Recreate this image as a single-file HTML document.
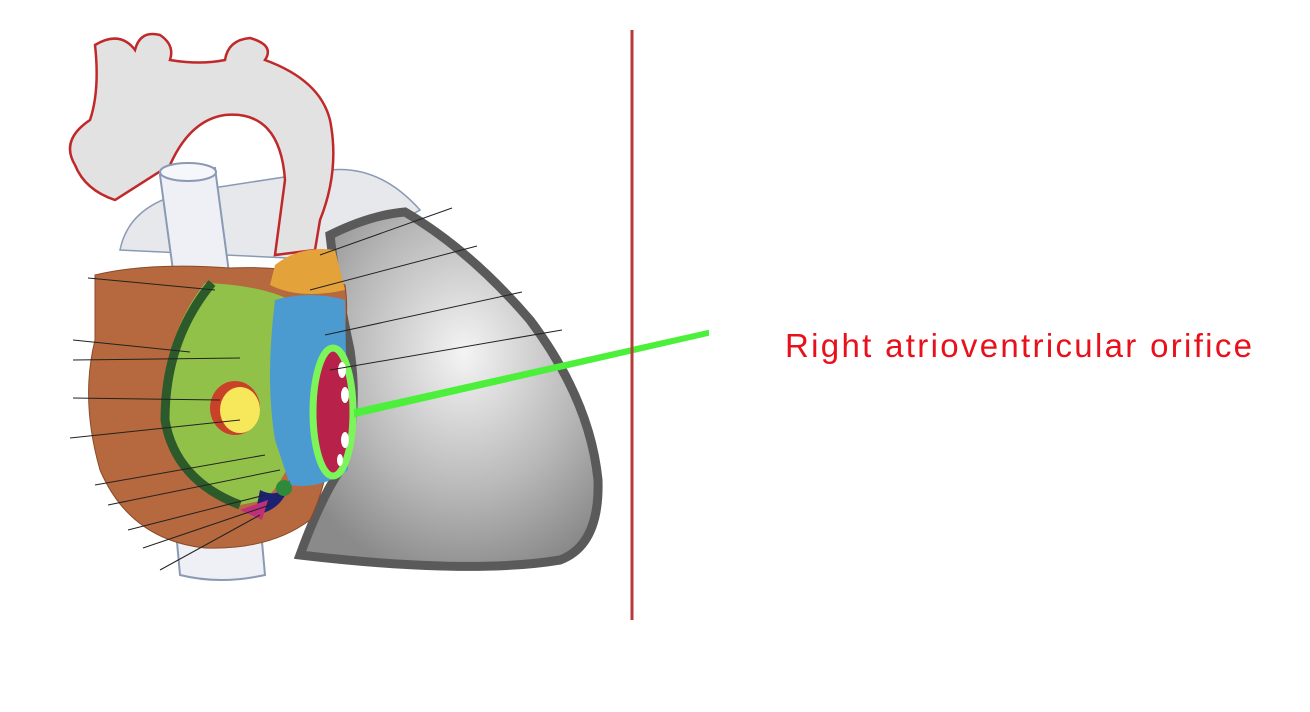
<!DOCTYPE html>
<html><head><meta charset="utf-8"><style>
html,body{margin:0;padding:0;background:#fff;width:1310px;height:712px;overflow:hidden}
svg{display:block}
</style></head><body>
<svg width="1310" height="712" viewBox="0 0 1310 712">
  <defs>
    <radialGradient id="vg" cx="0.55" cy="0.4" r="0.65">
      <stop offset="0" stop-color="#f4f4f4"/><stop offset="0.6" stop-color="#b8b8b8"/><stop offset="1" stop-color="#8a8a8a"/>
    </radialGradient>
  </defs>
  <path d="M120 250 Q130 200 200 190 L330 170 Q380 165 420 210 L330 260 Z" fill="#e6e8ec" stroke="#8a9ab5" stroke-width="1.5"/>
  <path d="M95 45 Q120 30 135 50 Q140 30 160 35 Q175 45 170 60 Q200 65 225 60 Q228 40 250 38 Q275 45 265 60 Q320 80 330 120 Q340 170 320 220 L315 250 L275 255 L285 180 Q280 110 225 115 Q190 120 170 165 L115 200 Q85 190 75 165 Q60 140 90 120 Q100 90 95 45 Z" fill="#e2e2e2" stroke="#c0282a" stroke-width="2.5"/>
  <path d="M160 175 L215 168 L230 280 L175 285 Z" fill="#eef0f5" stroke="#8a9ab5" stroke-width="2"/>
  <ellipse cx="188" cy="172" rx="28" ry="9" fill="#f6f7fa" stroke="#8a9ab5" stroke-width="2"/>
  <path d="M175 520 L260 520 L265 575 Q220 585 180 575 Z" fill="#eef0f5" stroke="#8a9ab5" stroke-width="2"/>
  <path d="M330 235 Q370 215 405 212 Q470 250 530 320 Q590 400 598 480 Q600 545 560 560 Q470 575 300 555 Q320 500 340 470 Q360 420 350 350 Q335 280 330 235 Z" fill="url(#vg)" stroke="#5a5a5a" stroke-width="9"/>
  <path d="M95 275 Q150 262 230 268 Q300 265 345 285 Q350 320 340 360 Q335 470 310 520 Q270 550 205 548 Q130 540 100 470 Q80 400 95 340 Z" fill="#b6683f" stroke="#8a4a2a" stroke-width="1"/>
  <path d="M275 265 Q300 245 335 250 L345 290 Q300 300 270 285 Z" fill="#e4a23a"/>
  <path d="M205 283 Q260 285 290 300 L300 440 Q285 480 265 500 L240 505 Q185 480 165 420 Q160 340 205 283 Z" fill="#92c14a"/>
  <path d="M212 283 Q165 340 165 420 Q175 480 240 505" fill="none" stroke="#2d5a2a" stroke-width="9"/>
  <path d="M275 300 Q310 290 345 300 L348 470 Q320 490 290 485 L275 440 Q265 380 275 300 Z" fill="#4b9bd0"/>
  <ellipse cx="235" cy="408" rx="25" ry="27" fill="#c94128"/>
  <ellipse cx="240" cy="410" rx="20" ry="23" fill="#f7e85b"/>
  <path d="M260 490 Q280 500 290 480 Q285 510 255 515 Z" fill="#1c2270"/>
  <circle cx="284" cy="488" r="8" fill="#2e8a3a"/>
  <path d="M240 510 L268 500 L262 520 Z" fill="#c0307a"/>
  <ellipse cx="333" cy="412" rx="20" ry="64" fill="#b8214a" stroke="#7cf55a" stroke-width="7"/>
  <g fill="#fff">
    <ellipse cx="342" cy="370" rx="4" ry="8"/><ellipse cx="345" cy="395" rx="4" ry="8"/><ellipse cx="345" cy="440" rx="4" ry="8"/><ellipse cx="340" cy="460" rx="3" ry="6"/>
  </g>
  <g stroke="#222" stroke-width="1">
    <line x1="452" y1="208" x2="320" y2="255"/><line x1="477" y1="246" x2="310" y2="290"/>
    <line x1="522" y1="292" x2="325" y2="335"/><line x1="562" y1="330" x2="330" y2="370"/>
    <line x1="88" y1="278" x2="215" y2="290"/><line x1="73" y1="340" x2="190" y2="352"/>
    <line x1="73" y1="360" x2="240" y2="358"/><line x1="73" y1="398" x2="220" y2="400"/>
    <line x1="70" y1="438" x2="240" y2="420"/><line x1="95" y1="485" x2="265" y2="455"/>
    <line x1="108" y1="505" x2="280" y2="470"/><line x1="128" y1="530" x2="265" y2="495"/>
    <line x1="143" y1="548" x2="270" y2="505"/><line x1="160" y1="570" x2="260" y2="515"/>
  </g>
  <path d="M708 331 L708 335 L355 416 L355 410 Z" fill="#4cf03a" stroke="#4cf03a" stroke-width="2"/>
  <line x1="632" y1="30" x2="632" y2="620" stroke="#b83a3a" stroke-width="3"/>
  <text x="785" y="357" font-family="Liberation Sans, sans-serif" font-size="33" fill="#e8101a" textLength="467" lengthAdjust="spacing">Right atrioventricular orifice</text>
</svg>
</body></html>
